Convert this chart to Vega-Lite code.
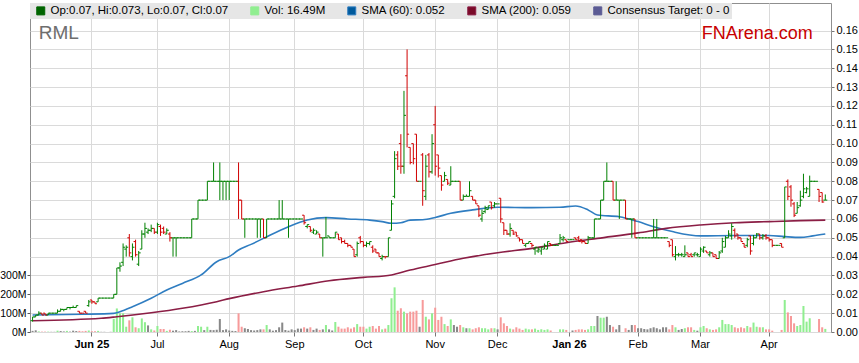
{
"$schema":"https://vega.github.io/schema/vega-lite/v6.json",
"width":801,"height":329,
"autosize":{"type":"none"},
"padding":{"left":30,"top":3,"right":28,"bottom":31},
"background":"white",
"config":{"font":"Liberation Sans","view":{"stroke":"#8f8f8f","strokeWidth":1}},
"datasets":{
"ohlc":[
{"d":"2025-05-06","o":0.006,"h":0.008,"l":0.0055,"c":0.008,"v":6,"t":"flat"},
{"d":"2025-05-07","o":0.008,"h":0.009,"l":0.008,"c":0.009,"v":9,"t":"flat"},
{"d":"2025-05-08","o":0.009,"h":0.011,"l":0.009,"c":0.01,"v":3,"t":"up"},
{"d":"2025-05-09","o":0.01,"h":0.01,"l":0.009,"c":0.009,"v":2,"t":"down"},
{"d":"2025-05-12","o":0.01,"h":0.01,"l":0.009,"c":0.009,"v":2,"t":"down"},
{"d":"2025-05-13","o":0.009,"h":0.01,"l":0.009,"c":0.01,"v":2,"t":"up"},
{"d":"2025-05-14","o":0.01,"h":0.01,"l":0.01,"c":0.01,"v":1,"t":"flat"},
{"d":"2025-05-15","o":0.01,"h":0.01,"l":0.01,"c":0.01,"v":1,"t":"flat"},
{"d":"2025-05-16","o":0.01,"h":0.012,"l":0.01,"c":0.011,"v":7,"t":"up"},
{"d":"2025-05-19","o":0.011,"h":0.0125,"l":0.011,"c":0.012,"v":5,"t":"flat"},
{"d":"2025-05-20","o":0.012,"h":0.012,"l":0.011,"c":0.012,"v":3,"t":"flat"},
{"d":"2025-05-21","o":0.012,"h":0.013,"l":0.012,"c":0.013,"v":6,"t":"up"},
{"d":"2025-05-22","o":0.013,"h":0.013,"l":0.012,"c":0.013,"v":2,"t":"flat"},
{"d":"2025-05-23","o":0.013,"h":0.014,"l":0.013,"c":0.013,"v":7,"t":"flat"},
{"d":"2025-05-26","o":0.013,"h":0.014,"l":0.013,"c":0.014,"v":5,"t":"flat"},
{"d":"2025-05-27","o":0.011,"h":0.011,"l":0.01,"c":0.01,"v":6,"t":"down"},
{"d":"2025-05-28","o":0.01,"h":0.01,"l":0.01,"c":0.01,"v":4,"t":"down"},
{"d":"2025-05-29","o":0.011,"h":0.011,"l":0.01,"c":0.01,"v":6,"t":"down"},
{"d":"2025-05-30","o":0.014,"h":0.017,"l":0.0134,"c":0.016,"v":8,"t":"up"},
{"d":"2025-06-02","o":0.017,"h":0.017,"l":0.015,"c":0.016,"v":4,"t":"down"},
{"d":"2025-06-03","o":0.016,"h":0.016,"l":0.015,"c":0.015,"v":4,"t":"down"},
{"d":"2025-06-04","o":0.016,"h":0.018,"l":0.016,"c":0.018,"v":6,"t":"up"},
{"d":"2025-06-05","o":0.018,"h":0.018,"l":0.018,"c":0.018,"v":1,"t":"flat"},
{"d":"2025-06-06","o":0.018,"h":0.018,"l":0.018,"c":0.018,"v":1,"t":"flat"},
{"d":"2025-06-09","o":0.018,"h":0.018,"l":0.018,"c":0.018,"v":0,"t":"flat"},
{"d":"2025-06-10","o":0.018,"h":0.018,"l":0.018,"c":0.018,"v":1,"t":"flat"},
{"d":"2025-06-11","o":0.018,"h":0.02,"l":0.018,"c":0.02,"v":70,"t":"up"},
{"d":"2025-06-12","o":0.02,"h":0.034,"l":0.02,"c":0.034,"v":125,"t":"up"},
{"d":"2025-06-13","o":0.034,"h":0.037,"l":0.032,"c":0.035,"v":99,"t":"up"},
{"d":"2025-06-16","o":0.037,"h":0.047,"l":0.035,"c":0.045,"v":99,"t":"up"},
{"d":"2025-06-17","o":0.044,"h":0.046,"l":0.04,"c":0.045,"v":28,"t":"up"},
{"d":"2025-06-18","o":0.05,"h":0.052,"l":0.04,"c":0.042,"v":62,"t":"down"},
{"d":"2025-06-19","o":0.04,"h":0.047,"l":0.038,"c":0.045,"v":78,"t":"up"},
{"d":"2025-06-20","o":0.048,"h":0.049,"l":0.04,"c":0.041,"v":25,"t":"down"},
{"d":"2025-06-23","o":0.036,"h":0.043,"l":0.035,"c":0.042,"v":20,"t":"up"},
{"d":"2025-06-24","o":0.044,"h":0.054,"l":0.044,"c":0.052,"v":72,"t":"up"},
{"d":"2025-06-25","o":0.052,"h":0.058,"l":0.05,"c":0.055,"v":52,"t":"up"},
{"d":"2025-06-26","o":0.053,"h":0.055,"l":0.052,"c":0.054,"v":35,"t":"flat"},
{"d":"2025-06-27","o":0.054,"h":0.057,"l":0.053,"c":0.055,"v":14,"t":"up"},
{"d":"2025-06-30","o":0.055,"h":0.055,"l":0.052,"c":0.053,"v":8,"t":"down"},
{"d":"2025-07-01","o":0.053,"h":0.058,"l":0.052,"c":0.057,"v":32,"t":"up"},
{"d":"2025-07-02","o":0.056,"h":0.057,"l":0.051,"c":0.053,"v":16,"t":"down"},
{"d":"2025-07-03","o":0.055,"h":0.056,"l":0.052,"c":0.053,"v":16,"t":"down"},
{"d":"2025-07-04","o":0.052,"h":0.055,"l":0.052,"c":0.054,"v":6,"t":"up"},
{"d":"2025-07-07","o":0.052,"h":0.053,"l":0.048,"c":0.05,"v":12,"t":"down"},
{"d":"2025-07-08","o":0.05,"h":0.05,"l":0.04,"c":0.05,"v":7,"t":"flat"},
{"d":"2025-07-09","o":0.05,"h":0.05,"l":0.04,"c":0.05,"v":10,"t":"flat"},
{"d":"2025-07-10","o":0.05,"h":0.05,"l":0.05,"c":0.05,"v":3,"t":"flat"},
{"d":"2025-07-11","o":0.05,"h":0.05,"l":0.05,"c":0.05,"v":4,"t":"flat"},
{"d":"2025-07-14","o":0.05,"h":0.05,"l":0.05,"c":0.05,"v":4,"t":"flat"},
{"d":"2025-07-15","o":0.05,"h":0.05,"l":0.05,"c":0.05,"v":6,"t":"flat"},
{"d":"2025-07-16","o":0.05,"h":0.06,"l":0.05,"c":0.06,"v":5,"t":"up"},
{"d":"2025-07-17","o":0.06,"h":0.06,"l":0.06,"c":0.06,"v":6,"t":"flat"},
{"d":"2025-07-18","o":0.06,"h":0.07,"l":0.06,"c":0.07,"v":32,"t":"up"},
{"d":"2025-07-21","o":0.07,"h":0.07,"l":0.07,"c":0.07,"v":28,"t":"up"},
{"d":"2025-07-22","o":0.07,"h":0.07,"l":0.07,"c":0.07,"v":10,"t":"flat"},
{"d":"2025-07-23","o":0.07,"h":0.08,"l":0.07,"c":0.08,"v":28,"t":"up"},
{"d":"2025-07-24","o":0.08,"h":0.08,"l":0.08,"c":0.08,"v":11,"t":"flat"},
{"d":"2025-07-25","o":0.08,"h":0.09,"l":0.08,"c":0.08,"v":10,"t":"flat"},
{"d":"2025-07-28","o":0.08,"h":0.08,"l":0.08,"c":0.08,"v":12,"t":"flat"},
{"d":"2025-07-29","o":0.08,"h":0.09,"l":0.07,"c":0.08,"v":69,"t":"flat"},
{"d":"2025-07-30","o":0.08,"h":0.08,"l":0.07,"c":0.08,"v":10,"t":"flat"},
{"d":"2025-07-31","o":0.08,"h":0.08,"l":0.07,"c":0.08,"v":14,"t":"flat"},
{"d":"2025-08-01","o":0.08,"h":0.08,"l":0.07,"c":0.08,"v":8,"t":"flat"},
{"d":"2025-08-04","o":0.08,"h":0.08,"l":0.08,"c":0.08,"v":6,"t":"flat"},
{"d":"2025-08-05","o":0.08,"h":0.08,"l":0.08,"c":0.08,"v":5,"t":"flat"},
{"d":"2025-08-06","o":0.08,"h":0.09,"l":0.06,"c":0.07,"v":99,"t":"down"},
{"d":"2025-08-07","o":0.07,"h":0.07,"l":0.06,"c":0.06,"v":28,"t":"down"},
{"d":"2025-08-08","o":0.06,"h":0.06,"l":0.05,"c":0.06,"v":20,"t":"flat"},
{"d":"2025-08-11","o":0.06,"h":0.06,"l":0.06,"c":0.06,"v":16,"t":"flat"},
{"d":"2025-08-12","o":0.06,"h":0.06,"l":0.06,"c":0.06,"v":10,"t":"flat"},
{"d":"2025-08-13","o":0.06,"h":0.06,"l":0.06,"c":0.06,"v":8,"t":"flat"},
{"d":"2025-08-14","o":0.06,"h":0.06,"l":0.05,"c":0.06,"v":10,"t":"flat"},
{"d":"2025-08-15","o":0.06,"h":0.06,"l":0.05,"c":0.06,"v":14,"t":"flat"},
{"d":"2025-08-18","o":0.06,"h":0.06,"l":0.05,"c":0.05,"v":14,"t":"down"},
{"d":"2025-08-19","o":0.05,"h":0.06,"l":0.05,"c":0.06,"v":37,"t":"up"},
{"d":"2025-08-20","o":0.06,"h":0.06,"l":0.06,"c":0.06,"v":14,"t":"flat"},
{"d":"2025-08-21","o":0.06,"h":0.06,"l":0.06,"c":0.06,"v":7,"t":"flat"},
{"d":"2025-08-22","o":0.06,"h":0.06,"l":0.06,"c":0.06,"v":10,"t":"flat"},
{"d":"2025-08-25","o":0.06,"h":0.07,"l":0.06,"c":0.06,"v":25,"t":"flat"},
{"d":"2025-08-26","o":0.06,"h":0.07,"l":0.06,"c":0.06,"v":50,"t":"flat"},
{"d":"2025-08-27","o":0.06,"h":0.06,"l":0.06,"c":0.06,"v":10,"t":"flat"},
{"d":"2025-08-28","o":0.06,"h":0.06,"l":0.05,"c":0.06,"v":7,"t":"flat"},
{"d":"2025-08-29","o":0.06,"h":0.06,"l":0.06,"c":0.06,"v":14,"t":"flat"},
{"d":"2025-09-01","o":0.06,"h":0.06,"l":0.06,"c":0.06,"v":10,"t":"flat"},
{"d":"2025-09-02","o":0.06,"h":0.06,"l":0.06,"c":0.06,"v":18,"t":"flat"},
{"d":"2025-09-03","o":0.06,"h":0.06,"l":0.06,"c":0.06,"v":18,"t":"flat"},
{"d":"2025-09-04","o":0.062,"h":0.062,"l":0.057,"c":0.058,"v":25,"t":"down"},
{"d":"2025-09-05","o":0.056,"h":0.057,"l":0.055,"c":0.057,"v":18,"t":"flat"},
{"d":"2025-09-08","o":0.056,"h":0.056,"l":0.053,"c":0.054,"v":25,"t":"down"},
{"d":"2025-09-09","o":0.053,"h":0.055,"l":0.052,"c":0.054,"v":11,"t":"flat"},
{"d":"2025-09-10","o":0.052,"h":0.054,"l":0.052,"c":0.053,"v":18,"t":"flat"},
{"d":"2025-09-11","o":0.052,"h":0.052,"l":0.05,"c":0.05,"v":11,"t":"down"},
{"d":"2025-09-12","o":0.05,"h":0.05,"l":0.04,"c":0.05,"v":14,"t":"flat"},
{"d":"2025-09-15","o":0.05,"h":0.061,"l":0.05,"c":0.05,"v":37,"t":"up"},
{"d":"2025-09-16","o":0.051,"h":0.051,"l":0.05,"c":0.05,"v":14,"t":"flat"},
{"d":"2025-09-17","o":0.05,"h":0.05,"l":0.05,"c":0.05,"v":8,"t":"flat"},
{"d":"2025-09-18","o":0.05,"h":0.053,"l":0.05,"c":0.053,"v":53,"t":"up"},
{"d":"2025-09-19","o":0.052,"h":0.052,"l":0.049,"c":0.049,"v":28,"t":"down"},
{"d":"2025-09-22","o":0.05,"h":0.05,"l":0.047,"c":0.048,"v":18,"t":"down"},
{"d":"2025-09-23","o":0.048,"h":0.049,"l":0.047,"c":0.047,"v":18,"t":"down"},
{"d":"2025-09-24","o":0.047,"h":0.047,"l":0.045,"c":0.046,"v":25,"t":"down"},
{"d":"2025-09-25","o":0.046,"h":0.046,"l":0.045,"c":0.045,"v":18,"t":"down"},
{"d":"2025-09-26","o":0.044,"h":0.044,"l":0.04,"c":0.04,"v":25,"t":"down"},
{"d":"2025-09-29","o":0.041,"h":0.048,"l":0.04,"c":0.047,"v":42,"t":"up"},
{"d":"2025-09-30","o":0.05,"h":0.051,"l":0.047,"c":0.048,"v":28,"t":"down"},
{"d":"2025-10-01","o":0.048,"h":0.048,"l":0.045,"c":0.046,"v":28,"t":"down"},
{"d":"2025-10-02","o":0.046,"h":0.048,"l":0.045,"c":0.047,"v":18,"t":"up"},
{"d":"2025-10-03","o":0.047,"h":0.048,"l":0.046,"c":0.048,"v":28,"t":"up"},
{"d":"2025-10-06","o":0.045,"h":0.046,"l":0.042,"c":0.043,"v":32,"t":"down"},
{"d":"2025-10-07","o":0.044,"h":0.044,"l":0.042,"c":0.042,"v":18,"t":"down"},
{"d":"2025-10-08","o":0.042,"h":0.042,"l":0.04,"c":0.04,"v":32,"t":"down"},
{"d":"2025-10-09","o":0.039,"h":0.041,"l":0.038,"c":0.04,"v":14,"t":"up"},
{"d":"2025-10-10","o":0.04,"h":0.04,"l":0.039,"c":0.04,"v":18,"t":"down"},
{"d":"2025-10-13","o":0.04,"h":0.05,"l":0.04,"c":0.05,"v":37,"t":"up"},
{"d":"2025-10-14","o":0.054,"h":0.07,"l":0.054,"c":0.068,"v":179,"t":"up"},
{"d":"2025-10-15","o":0.072,"h":0.096,"l":0.071,"c":0.092,"v":237,"t":"up"},
{"d":"2025-10-16","o":0.094,"h":0.096,"l":0.086,"c":0.088,"v":113,"t":"down"},
{"d":"2025-10-17","o":0.1,"h":0.105,"l":0.084,"c":0.088,"v":126,"t":"down"},
{"d":"2025-10-20","o":0.088,"h":0.128,"l":0.084,"c":0.115,"v":108,"t":"up"},
{"d":"2025-10-21","o":0.136,"h":0.15,"l":0.098,"c":0.105,"v":99,"t":"down"},
{"d":"2025-10-22","o":0.098,"h":0.098,"l":0.089,"c":0.09,"v":108,"t":"down"},
{"d":"2025-10-23","o":0.1,"h":0.1,"l":0.089,"c":0.092,"v":108,"t":"down"},
{"d":"2025-10-24","o":0.105,"h":0.105,"l":0.08,"c":0.08,"v":113,"t":"down"},
{"d":"2025-10-27","o":0.08,"h":0.08,"l":0.08,"c":0.08,"v":28,"t":"flat"},
{"d":"2025-10-28","o":0.094,"h":0.095,"l":0.067,"c":0.075,"v":170,"t":"down"},
{"d":"2025-10-29","o":0.072,"h":0.094,"l":0.07,"c":0.088,"v":81,"t":"up"},
{"d":"2025-10-30","o":0.094,"h":0.095,"l":0.082,"c":0.085,"v":67,"t":"down"},
{"d":"2025-10-31","o":0.085,"h":0.105,"l":0.084,"c":0.1,"v":99,"t":"up"},
{"d":"2025-11-03","o":0.11,"h":0.12,"l":0.083,"c":0.088,"v":129,"t":"down"},
{"d":"2025-11-04","o":0.094,"h":0.094,"l":0.082,"c":0.087,"v":64,"t":"down"},
{"d":"2025-11-05","o":0.083,"h":0.083,"l":0.075,"c":0.078,"v":81,"t":"down"},
{"d":"2025-11-06","o":0.08,"h":0.085,"l":0.08,"c":0.083,"v":42,"t":"up"},
{"d":"2025-11-07","o":0.081,"h":0.081,"l":0.078,"c":0.079,"v":32,"t":"down"},
{"d":"2025-11-10","o":0.078,"h":0.088,"l":0.078,"c":0.08,"v":67,"t":"up"},
{"d":"2025-11-11","o":0.08,"h":0.08,"l":0.08,"c":0.08,"v":37,"t":"flat"},
{"d":"2025-11-12","o":0.08,"h":0.08,"l":0.08,"c":0.08,"v":28,"t":"flat"},
{"d":"2025-11-13","o":0.08,"h":0.08,"l":0.07,"c":0.07,"v":37,"t":"down"},
{"d":"2025-11-14","o":0.07,"h":0.073,"l":0.07,"c":0.072,"v":25,"t":"up"},
{"d":"2025-11-17","o":0.072,"h":0.073,"l":0.072,"c":0.072,"v":20,"t":"flat"},
{"d":"2025-11-18","o":0.072,"h":0.08,"l":0.072,"c":0.075,"v":20,"t":"up"},
{"d":"2025-11-19","o":0.072,"h":0.072,"l":0.07,"c":0.07,"v":14,"t":"down"},
{"d":"2025-11-20","o":0.07,"h":0.07,"l":0.068,"c":0.068,"v":20,"t":"down"},
{"d":"2025-11-21","o":0.067,"h":0.067,"l":0.061,"c":0.062,"v":25,"t":"down"},
{"d":"2025-11-24","o":0.06,"h":0.065,"l":0.0585,"c":0.063,"v":20,"t":"up"},
{"d":"2025-11-25","o":0.064,"h":0.067,"l":0.063,"c":0.066,"v":20,"t":"up"},
{"d":"2025-11-26","o":0.065,"h":0.067,"l":0.065,"c":0.067,"v":14,"t":"up"},
{"d":"2025-11-27","o":0.069,"h":0.069,"l":0.065,"c":0.066,"v":20,"t":"down"},
{"d":"2025-11-28","o":0.067,"h":0.069,"l":0.066,"c":0.068,"v":20,"t":"up"},
{"d":"2025-12-01","o":0.068,"h":0.068,"l":0.068,"c":0.068,"v":14,"t":"flat"},
{"d":"2025-12-02","o":0.071,"h":0.071,"l":0.058,"c":0.06,"v":78,"t":"down"},
{"d":"2025-12-03","o":0.058,"h":0.058,"l":0.0515,"c":0.054,"v":46,"t":"down"},
{"d":"2025-12-04","o":0.054,"h":0.054,"l":0.0515,"c":0.052,"v":32,"t":"down"},
{"d":"2025-12-05","o":0.052,"h":0.0577,"l":0.0506,"c":0.055,"v":18,"t":"up"},
{"d":"2025-12-08","o":0.054,"h":0.054,"l":0.0515,"c":0.052,"v":14,"t":"down"},
{"d":"2025-12-09","o":0.053,"h":0.053,"l":0.0506,"c":0.051,"v":25,"t":"down"},
{"d":"2025-12-10","o":0.05,"h":0.05,"l":0.048,"c":0.049,"v":18,"t":"down"},
{"d":"2025-12-11","o":0.049,"h":0.049,"l":0.047,"c":0.047,"v":11,"t":"down"},
{"d":"2025-12-12","o":0.046,"h":0.047,"l":0.045,"c":0.047,"v":18,"t":"up"},
{"d":"2025-12-15","o":0.047,"h":0.048,"l":0.047,"c":0.048,"v":14,"t":"up"},
{"d":"2025-12-16","o":0.047,"h":0.047,"l":0.045,"c":0.046,"v":14,"t":"down"},
{"d":"2025-12-17","o":0.044,"h":0.045,"l":0.041,"c":0.045,"v":18,"t":"up"},
{"d":"2025-12-18","o":0.043,"h":0.045,"l":0.042,"c":0.044,"v":11,"t":"up"},
{"d":"2025-12-19","o":0.043,"h":0.045,"l":0.041,"c":0.045,"v":14,"t":"up"},
{"d":"2025-12-22","o":0.044,"h":0.047,"l":0.044,"c":0.046,"v":11,"t":"up"},
{"d":"2025-12-23","o":0.044,"h":0.048,"l":0.044,"c":0.048,"v":14,"t":"up"},
{"d":"2025-12-24","o":0.047,"h":0.047,"l":0.046,"c":0.046,"v":8,"t":"down"},
{"d":"2025-12-25","o":0.046,"h":0.046,"l":0.046,"c":0.046,"v":0,"t":"flat"},
{"d":"2025-12-26","o":0.046,"h":0.046,"l":0.046,"c":0.046,"v":0,"t":"flat"},
{"d":"2025-12-29","o":0.047,"h":0.052,"l":0.047,"c":0.05,"v":14,"t":"up"},
{"d":"2025-12-30","o":0.049,"h":0.051,"l":0.048,"c":0.05,"v":14,"t":"up"},
{"d":"2025-12-31","o":0.049,"h":0.049,"l":0.048,"c":0.048,"v":11,"t":"down"},
{"d":"2026-01-01","o":0.049,"h":0.049,"l":0.049,"c":0.049,"v":0,"t":"flat"},
{"d":"2026-01-02","o":0.049,"h":0.049,"l":0.049,"c":0.049,"v":8,"t":"flat"},
{"d":"2026-01-05","o":0.05,"h":0.05,"l":0.049,"c":0.049,"v":11,"t":"down"},
{"d":"2026-01-06","o":0.05,"h":0.051,"l":0.048,"c":0.048,"v":14,"t":"down"},
{"d":"2026-01-07","o":0.049,"h":0.049,"l":0.047,"c":0.048,"v":14,"t":"down"},
{"d":"2026-01-08","o":0.048,"h":0.048,"l":0.047,"c":0.047,"v":11,"t":"down"},
{"d":"2026-01-09","o":0.047,"h":0.051,"l":0.047,"c":0.05,"v":14,"t":"up"},
{"d":"2026-01-12","o":0.05,"h":0.05,"l":0.05,"c":0.05,"v":32,"t":"up"},
{"d":"2026-01-13","o":0.05,"h":0.06,"l":0.05,"c":0.06,"v":32,"t":"up"},
{"d":"2026-01-14","o":0.06,"h":0.06,"l":0.06,"c":0.06,"v":85,"t":"flat"},
{"d":"2026-01-15","o":0.06,"h":0.07,"l":0.06,"c":0.07,"v":76,"t":"up"},
{"d":"2026-01-16","o":0.07,"h":0.08,"l":0.07,"c":0.08,"v":76,"t":"up"},
{"d":"2026-01-19","o":0.08,"h":0.09,"l":0.08,"c":0.08,"v":81,"t":"flat"},
{"d":"2026-01-20","o":0.08,"h":0.08,"l":0.08,"c":0.08,"v":37,"t":"flat"},
{"d":"2026-01-21","o":0.08,"h":0.08,"l":0.07,"c":0.07,"v":28,"t":"down"},
{"d":"2026-01-22","o":0.07,"h":0.08,"l":0.07,"c":0.07,"v":14,"t":"flat"},
{"d":"2026-01-23","o":0.07,"h":0.07,"l":0.06,"c":0.07,"v":37,"t":"flat"},
{"d":"2026-01-26","o":0.07,"h":0.07,"l":0.07,"c":0.07,"v":0,"t":"flat"},
{"d":"2026-01-27","o":0.07,"h":0.07,"l":0.06,"c":0.06,"v":20,"t":"down"},
{"d":"2026-01-28","o":0.06,"h":0.06,"l":0.06,"c":0.06,"v":11,"t":"flat"},
{"d":"2026-01-29","o":0.06,"h":0.06,"l":0.05,"c":0.06,"v":37,"t":"flat"},
{"d":"2026-01-30","o":0.06,"h":0.06,"l":0.05,"c":0.05,"v":37,"t":"down"},
{"d":"2026-02-02","o":0.05,"h":0.05,"l":0.05,"c":0.05,"v":20,"t":"flat"},
{"d":"2026-02-03","o":0.05,"h":0.05,"l":0.05,"c":0.05,"v":20,"t":"flat"},
{"d":"2026-02-04","o":0.05,"h":0.05,"l":0.05,"c":0.05,"v":16,"t":"flat"},
{"d":"2026-02-05","o":0.05,"h":0.05,"l":0.05,"c":0.05,"v":14,"t":"flat"},
{"d":"2026-02-06","o":0.05,"h":0.05,"l":0.05,"c":0.05,"v":20,"t":"flat"},
{"d":"2026-02-09","o":0.05,"h":0.06,"l":0.05,"c":0.05,"v":25,"t":"flat"},
{"d":"2026-02-10","o":0.05,"h":0.06,"l":0.05,"c":0.05,"v":20,"t":"flat"},
{"d":"2026-02-11","o":0.05,"h":0.05,"l":0.05,"c":0.05,"v":14,"t":"flat"},
{"d":"2026-02-12","o":0.05,"h":0.05,"l":0.05,"c":0.05,"v":25,"t":"flat"},
{"d":"2026-02-13","o":0.05,"h":0.05,"l":0.05,"c":0.05,"v":25,"t":"flat"},
{"d":"2026-02-16","o":0.048,"h":0.048,"l":0.045,"c":0.046,"v":14,"t":"down"},
{"d":"2026-02-17","o":0.049,"h":0.049,"l":0.04,"c":0.041,"v":37,"t":"down"},
{"d":"2026-02-18","o":0.04,"h":0.0456,"l":0.038,"c":0.041,"v":25,"t":"up"},
{"d":"2026-02-19","o":0.041,"h":0.042,"l":0.04,"c":0.041,"v":11,"t":"flat"},
{"d":"2026-02-20","o":0.041,"h":0.042,"l":0.04,"c":0.041,"v":16,"t":"flat"},
{"d":"2026-02-23","o":0.04,"h":0.046,"l":0.04,"c":0.041,"v":20,"t":"up"},
{"d":"2026-02-24","o":0.042,"h":0.042,"l":0.04,"c":0.04,"v":25,"t":"down"},
{"d":"2026-02-25","o":0.041,"h":0.042,"l":0.04,"c":0.04,"v":25,"t":"down"},
{"d":"2026-02-26","o":0.041,"h":0.042,"l":0.04,"c":0.042,"v":11,"t":"up"},
{"d":"2026-02-27","o":0.041,"h":0.042,"l":0.04,"c":0.041,"v":7,"t":"flat"},
{"d":"2026-03-02","o":0.04,"h":0.045,"l":0.04,"c":0.044,"v":25,"t":"up"},
{"d":"2026-03-03","o":0.043,"h":0.0455,"l":0.042,"c":0.045,"v":32,"t":"up"},
{"d":"2026-03-04","o":0.043,"h":0.043,"l":0.042,"c":0.042,"v":20,"t":"down"},
{"d":"2026-03-05","o":0.041,"h":0.043,"l":0.04,"c":0.042,"v":14,"t":"up"},
{"d":"2026-03-06","o":0.042,"h":0.042,"l":0.04,"c":0.04,"v":11,"t":"down"},
{"d":"2026-03-09","o":0.041,"h":0.041,"l":0.039,"c":0.039,"v":14,"t":"down"},
{"d":"2026-03-10","o":0.039,"h":0.043,"l":0.039,"c":0.042,"v":25,"t":"up"},
{"d":"2026-03-11","o":0.043,"h":0.05,"l":0.042,"c":0.048,"v":64,"t":"up"},
{"d":"2026-03-12","o":0.045,"h":0.051,"l":0.045,"c":0.05,"v":42,"t":"up"},
{"d":"2026-03-13","o":0.05,"h":0.054,"l":0.05,"c":0.052,"v":42,"t":"up"},
{"d":"2026-03-16","o":0.051,"h":0.0577,"l":0.049,"c":0.056,"v":37,"t":"up"},
{"d":"2026-03-17","o":0.054,"h":0.055,"l":0.05,"c":0.051,"v":25,"t":"down"},
{"d":"2026-03-18","o":0.052,"h":0.052,"l":0.049,"c":0.05,"v":20,"t":"down"},
{"d":"2026-03-19","o":0.05,"h":0.05,"l":0.048,"c":0.048,"v":25,"t":"down"},
{"d":"2026-03-20","o":0.047,"h":0.047,"l":0.045,"c":0.045,"v":20,"t":"down"},
{"d":"2026-03-23","o":0.046,"h":0.05,"l":0.045,"c":0.049,"v":32,"t":"up"},
{"d":"2026-03-24","o":0.051,"h":0.051,"l":0.041,"c":0.043,"v":25,"t":"down"},
{"d":"2026-03-25","o":0.047,"h":0.0515,"l":0.046,"c":0.05,"v":50,"t":"up"},
{"d":"2026-03-26","o":0.05,"h":0.0525,"l":0.05,"c":0.052,"v":28,"t":"up"},
{"d":"2026-03-27","o":0.052,"h":0.052,"l":0.049,"c":0.05,"v":25,"t":"down"},
{"d":"2026-03-30","o":0.05,"h":0.052,"l":0.049,"c":0.051,"v":25,"t":"up"},
{"d":"2026-03-31","o":0.051,"h":0.052,"l":0.049,"c":0.05,"v":14,"t":"down"},
{"d":"2026-04-01","o":0.05,"h":0.05,"l":0.048,"c":0.049,"v":14,"t":"down"},
{"d":"2026-04-02","o":0.049,"h":0.049,"l":0.045,"c":0.046,"v":7,"t":"down"},
{"d":"2026-04-03","o":0.046,"h":0.046,"l":0.046,"c":0.046,"v":0,"t":"flat"},
{"d":"2026-04-06","o":0.046,"h":0.046,"l":0.046,"c":0.046,"v":0,"t":"flat"},
{"d":"2026-04-07","o":0.047,"h":0.047,"l":0.045,"c":0.045,"v":11,"t":"down"},
{"d":"2026-04-08","o":0.05,"h":0.077,"l":0.05,"c":0.077,"v":170,"t":"up"},
{"d":"2026-04-09","o":0.08,"h":0.081,"l":0.07,"c":0.072,"v":104,"t":"down"},
{"d":"2026-04-10","o":0.077,"h":0.078,"l":0.0665,"c":0.07,"v":85,"t":"down"},
{"d":"2026-04-13","o":0.068,"h":0.069,"l":0.061,"c":0.062,"v":46,"t":"down"},
{"d":"2026-04-14","o":0.063,"h":0.069,"l":0.063,"c":0.066,"v":32,"t":"up"},
{"d":"2026-04-15","o":0.067,"h":0.075,"l":0.0665,"c":0.07,"v":37,"t":"up"},
{"d":"2026-04-16","o":0.072,"h":0.084,"l":0.071,"c":0.076,"v":138,"t":"up"},
{"d":"2026-04-17","o":0.074,"h":0.077,"l":0.0736,"c":0.076,"v":55,"t":"up"},
{"d":"2026-04-20","o":0.072,"h":0.083,"l":0.072,"c":0.08,"v":73,"t":"up"},
{"d":"2026-04-21","o":0.08,"h":0.08,"l":0.08,"c":0.08,"v":0,"t":"flat"},
{"d":"2026-04-22","o":0.08,"h":0.08,"l":0.08,"c":0.08,"v":0,"t":"flat"},
{"d":"2026-04-23","o":0.0757,"h":0.0757,"l":0.069,"c":0.072,"v":69,"t":"down"},
{"d":"2026-04-24","o":0.074,"h":0.074,"l":0.0686,"c":0.069,"v":25,"t":"down"},
{"d":"2026-04-27","o":0.07,"h":0.073,"l":0.07,"c":0.07,"v":16.49,"t":"up"}
],
"sma":[
{"d":"2025-05-06","k":"SMA (60): 0.052","s":0.009},
{"d":"2025-05-28","k":"SMA (60): 0.052","s":0.0094},
{"d":"2025-06-11","k":"SMA (60): 0.052","s":0.0099},
{"d":"2025-06-13","k":"SMA (60): 0.052","s":0.0108},
{"d":"2025-06-19","k":"SMA (60): 0.052","s":0.0134},
{"d":"2025-06-27","k":"SMA (60): 0.052","s":0.0179},
{"d":"2025-07-04","k":"SMA (60): 0.052","s":0.0223},
{"d":"2025-07-11","k":"SMA (60): 0.052","s":0.0258},
{"d":"2025-07-21","k":"SMA (60): 0.052","s":0.0303},
{"d":"2025-07-28","k":"SMA (60): 0.052","s":0.0373},
{"d":"2025-08-01","k":"SMA (60): 0.052","s":0.04},
{"d":"2025-08-06","k":"SMA (60): 0.052","s":0.0435},
{"d":"2025-08-12","k":"SMA (60): 0.052","s":0.0465},
{"d":"2025-08-18","k":"SMA (60): 0.052","s":0.0497},
{"d":"2025-08-28","k":"SMA (60): 0.052","s":0.0559},
{"d":"2025-09-05","k":"SMA (60): 0.052","s":0.0594},
{"d":"2025-09-15","k":"SMA (60): 0.052","s":0.0607},
{"d":"2025-09-24","k":"SMA (60): 0.052","s":0.06},
{"d":"2025-10-03","k":"SMA (60): 0.052","s":0.0594},
{"d":"2025-10-09","k":"SMA (60): 0.052","s":0.0586},
{"d":"2025-10-14","k":"SMA (60): 0.052","s":0.0577},
{"d":"2025-10-17","k":"SMA (60): 0.052","s":0.058},
{"d":"2025-10-22","k":"SMA (60): 0.052","s":0.0594},
{"d":"2025-10-28","k":"SMA (60): 0.052","s":0.0596},
{"d":"2025-11-03","k":"SMA (60): 0.052","s":0.0608},
{"d":"2025-11-10","k":"SMA (60): 0.052","s":0.063},
{"d":"2025-11-19","k":"SMA (60): 0.052","s":0.0648},
{"d":"2025-12-01","k":"SMA (60): 0.052","s":0.0662},
{"d":"2025-12-16","k":"SMA (60): 0.052","s":0.066},
{"d":"2025-12-29","k":"SMA (60): 0.052","s":0.0662},
{"d":"2026-01-05","k":"SMA (60): 0.052","s":0.0669},
{"d":"2026-01-09","k":"SMA (60): 0.052","s":0.0648},
{"d":"2026-01-14","k":"SMA (60): 0.052","s":0.0621},
{"d":"2026-01-23","k":"SMA (60): 0.052","s":0.0612},
{"d":"2026-02-02","k":"SMA (60): 0.052","s":0.0586},
{"d":"2026-02-09","k":"SMA (60): 0.052","s":0.0559},
{"d":"2026-02-17","k":"SMA (60): 0.052","s":0.0533},
{"d":"2026-03-02","k":"SMA (60): 0.052","s":0.051},
{"d":"2026-03-17","k":"SMA (60): 0.052","s":0.0512},
{"d":"2026-04-01","k":"SMA (60): 0.052","s":0.0512},
{"d":"2026-04-08","k":"SMA (60): 0.052","s":0.0506},
{"d":"2026-04-15","k":"SMA (60): 0.052","s":0.0502},
{"d":"2026-04-21","k":"SMA (60): 0.052","s":0.051},
{"d":"2026-04-27","k":"SMA (60): 0.052","s":0.052},
{"d":"2025-05-06","k":"SMA (200): 0.059","s":0.006},
{"d":"2025-06-05","k":"SMA (200): 0.059","s":0.0073},
{"d":"2025-06-12","k":"SMA (200): 0.059","s":0.0081},
{"d":"2025-06-27","k":"SMA (200): 0.059","s":0.0102},
{"d":"2025-07-11","k":"SMA (200): 0.059","s":0.0126},
{"d":"2025-07-28","k":"SMA (200): 0.059","s":0.0161},
{"d":"2025-08-01","k":"SMA (200): 0.059","s":0.0177},
{"d":"2025-08-18","k":"SMA (200): 0.059","s":0.0214},
{"d":"2025-09-02","k":"SMA (200): 0.059","s":0.0244},
{"d":"2025-09-16","k":"SMA (200): 0.059","s":0.0272},
{"d":"2025-10-01","k":"SMA (200): 0.059","s":0.029},
{"d":"2025-10-14","k":"SMA (200): 0.059","s":0.0303},
{"d":"2025-10-22","k":"SMA (200): 0.059","s":0.0329},
{"d":"2025-11-03","k":"SMA (200): 0.059","s":0.0358},
{"d":"2025-11-14","k":"SMA (200): 0.059","s":0.0391},
{"d":"2025-12-01","k":"SMA (200): 0.059","s":0.0421},
{"d":"2025-12-16","k":"SMA (200): 0.059","s":0.0444},
{"d":"2025-12-31","k":"SMA (200): 0.059","s":0.0474},
{"d":"2026-01-14","k":"SMA (200): 0.059","s":0.0497},
{"d":"2026-02-02","k":"SMA (200): 0.059","s":0.0526},
{"d":"2026-02-13","k":"SMA (200): 0.059","s":0.055},
{"d":"2026-03-02","k":"SMA (200): 0.059","s":0.0568},
{"d":"2026-03-17","k":"SMA (200): 0.059","s":0.058},
{"d":"2026-04-01","k":"SMA (200): 0.059","s":0.0586},
{"d":"2026-04-15","k":"SMA (200): 0.059","s":0.0591},
{"d":"2026-04-27","k":"SMA (200): 0.059","s":0.0594}
]
},
"data":{"name":"ohlc"},
"layer":[
{
"mark":{"type":"bar"},
"encoding":{
"x":{"field":"d","type":"ordinal","title":null,
"scale":{"type":"band","paddingInner":0.35,"paddingOuter":2.205,"align":0.25,"round":false},
"axis":{"values":["2025-06-02","2025-07-01","2025-08-01","2025-09-01","2025-10-01","2025-11-03","2025-12-01","2026-01-01","2026-02-02","2026-03-02","2026-04-01"],
"labelExpr":"datum.value == '2025-06-02' ? 'Jun 25' : datum.value == '2026-01-01' ? 'Jan 26' : utcFormat(toDate(datum.value), '%b')",
"labelFontWeight":{"condition":{"test":"datum.value == '2025-06-02' || datum.value == '2026-01-01'","value":"bold"},"value":"normal"},
"labelAngle":0,"labelOverlap":false,"bandPosition":0.5,"grid":true,"gridColor":"#dadada","gridWidth":1,"domain":false,"tickColor":"#777777","tickSize":4,"labelFont":"Liberation Sans","labelFontSize":11,"labelColor":"#000000","labelPadding":2}},
"y":{"field":"v","type":"quantitative","title":null,"scale":{"domain":[0,1746],"nice":false,"zero":true},
"axis":{"orient":"left","values":[0,100,200,300],"labelExpr":"datum.value + 'M'","labelOverlap":false,"grid":false,"domain":false,"tickColor":"#555555","tickSize":3,"labelFont":"Liberation Sans","labelFontSize":10.5,"labelColor":"#000000","labelPadding":1}},
"fill":{"field":"t","type":"nominal","scale":{"domain":["up","down","flat"],"range":["#90ee90","#f79a9a","#888888"]},"legend":null}
}
},
{
"layer":[
{
"data":{"name":"sma"},
"mark":{"type":"line","strokeWidth":1.6,"interpolate":"monotone"},
"encoding":{
"x":{"field":"d","type":"ordinal","title":null},
"y":{"field":"s","type":"quantitative","title":null,"scale":{"domain":[0,0.17463],"nice":false,"zero":true},
"axis":{"orient":"right","values":[0,0.01,0.02,0.03,0.04,0.05,0.06,0.07,0.08,0.09,0.1,0.11,0.12,0.13,0.14,0.15,0.16],"format":".2f","labelOverlap":false,"grid":true,"gridColor":"#dadada","domain":false,"tickColor":"#777777","tickSize":3,"labelFont":"Liberation Sans","labelFontSize":11,"labelColor":"#000000","labelPadding":2}},
"stroke":{"field":"k","type":"nominal",
"scale":{"domain":["Op:0.07, Hi:0.073, Lo:0.07, Cl:0.07","Vol: 16.49M","SMA (60): 0.052","SMA (200): 0.059","Consensus Target: 0 - 0"],"range":["#006400","#90ee90","#2f7dc1","#8b1e45","#5b5b94"]},
"legend":{"orient":"none","legendX":0,"legendY":0,"direction":"horizontal","columns":5,"title":null,
"symbolType":"square","symbolSize":64,"symbolStrokeWidth":1,"symbolOffset":3,
"labelFont":"Liberation Sans","labelFontSize":11.5,"labelColor":"#000000","labelOffset":4,"labelLimit":300,
"columnPadding":17,"padding":2,"fillColor":"#e6e6e6",
"encode":{"symbols":{"update":{"fill":{"signal":"indexof(datum.value,'Op:')==0 ? '#006400' : indexof(datum.value,'Vol')==0 ? '#90ee90' : indexof(datum.value,'SMA (60)')==0 ? '#005a9c' : indexof(datum.value,'SMA (200)')==0 ? '#7a0a28' : '#5b5b94'"},"stroke":{"value":"#333333"},"strokeWidth":{"value":1},"opacity":{"value":1}}}}}
}
}
},
{
"mark":{"type":"rule","strokeWidth":1},
"encoding":{
"x":{"field":"d","type":"ordinal","title":null},
"y":{"field":"l","type":"quantitative","title":null,"scale":{"domain":[0,0.17463],"nice":false,"zero":true},
"axis":{"orient":"right","values":[0,0.01,0.02,0.03,0.04,0.05,0.06,0.07,0.08,0.09,0.1,0.11,0.12,0.13,0.14,0.15,0.16],"format":".2f","labelOverlap":false,"grid":true,"gridColor":"#dadada","domain":false,"tickColor":"#777777","tickSize":3,"labelFont":"Liberation Sans","labelFontSize":11,"labelColor":"#000000","labelPadding":2}},
"y2":{"field":"h"},
"color":{"field":"t","type":"nominal","scale":{"domain":["up","down","flat"],"range":["#008000","#d00000","#008000"]},"legend":null}
}
},
{
"mark":{"type":"tick","orient":"horizontal","size":2,"thickness":1,"xOffset":-1,"opacity":1},
"encoding":{
"x":{"field":"d","type":"ordinal","title":null},
"y":{"field":"o","type":"quantitative","title":null,"scale":{"domain":[0,0.17463],"nice":false,"zero":true},
"axis":{"orient":"right","values":[0,0.01,0.02,0.03,0.04,0.05,0.06,0.07,0.08,0.09,0.1,0.11,0.12,0.13,0.14,0.15,0.16],"format":".2f","labelOverlap":false,"grid":true,"gridColor":"#dadada","domain":false,"tickColor":"#777777","tickSize":3,"labelFont":"Liberation Sans","labelFontSize":11,"labelColor":"#000000","labelPadding":2}},
"color":{"field":"t","type":"nominal","legend":null}
}
},
{
"mark":{"type":"tick","orient":"horizontal","size":2,"thickness":1,"xOffset":1,"opacity":1},
"encoding":{
"x":{"field":"d","type":"ordinal","title":null},
"y":{"field":"c","type":"quantitative","title":null,"scale":{"domain":[0,0.17463],"nice":false,"zero":true},
"axis":{"orient":"right","values":[0,0.01,0.02,0.03,0.04,0.05,0.06,0.07,0.08,0.09,0.1,0.11,0.12,0.13,0.14,0.15,0.16],"format":".2f","labelOverlap":false,"grid":true,"gridColor":"#dadada","domain":false,"tickColor":"#777777","tickSize":3,"labelFont":"Liberation Sans","labelFontSize":11,"labelColor":"#000000","labelPadding":2}},
"color":{"field":"t","type":"nominal","legend":null}
}
},
{
"data":{"values":[{"label":"RML"}]},
"mark":{"type":"text","align":"left","baseline":"alphabetic","fontSize":19,"font":"Liberation Sans","color":"#6e6e6e"},
"encoding":{
"x":{"datum":"2025-05-08","type":"ordinal"},
"y":{"datum":0.1554,"type":"quantitative","title":null,"scale":{"domain":[0,0.17463],"nice":false,"zero":true},
"axis":{"orient":"right","values":[0,0.01,0.02,0.03,0.04,0.05,0.06,0.07,0.08,0.09,0.1,0.11,0.12,0.13,0.14,0.15,0.16],"format":".2f","labelOverlap":false,"grid":true,"gridColor":"#dadada","domain":false,"tickColor":"#777777","tickSize":3,"labelFont":"Liberation Sans","labelFontSize":11,"labelColor":"#000000","labelPadding":2}},
"text":{"field":"label","type":"nominal"}
}
},
{
"data":{"values":[{"label":"FNArena.com"}]},
"mark":{"type":"text","align":"right","baseline":"alphabetic","fontSize":18,"font":"Liberation Sans","color":"#c80000"},
"encoding":{
"x":{"datum":"2026-04-21","type":"ordinal"},
"y":{"datum":0.1554,"type":"quantitative","title":null,"scale":{"domain":[0,0.17463],"nice":false,"zero":true},
"axis":{"orient":"right","values":[0,0.01,0.02,0.03,0.04,0.05,0.06,0.07,0.08,0.09,0.1,0.11,0.12,0.13,0.14,0.15,0.16],"format":".2f","labelOverlap":false,"grid":true,"gridColor":"#dadada","domain":false,"tickColor":"#777777","tickSize":3,"labelFont":"Liberation Sans","labelFontSize":11,"labelColor":"#000000","labelPadding":2}},
"text":{"field":"label","type":"nominal"}
}
}
]
}
],
"resolve":{"scale":{"y":"independent"}}
}
